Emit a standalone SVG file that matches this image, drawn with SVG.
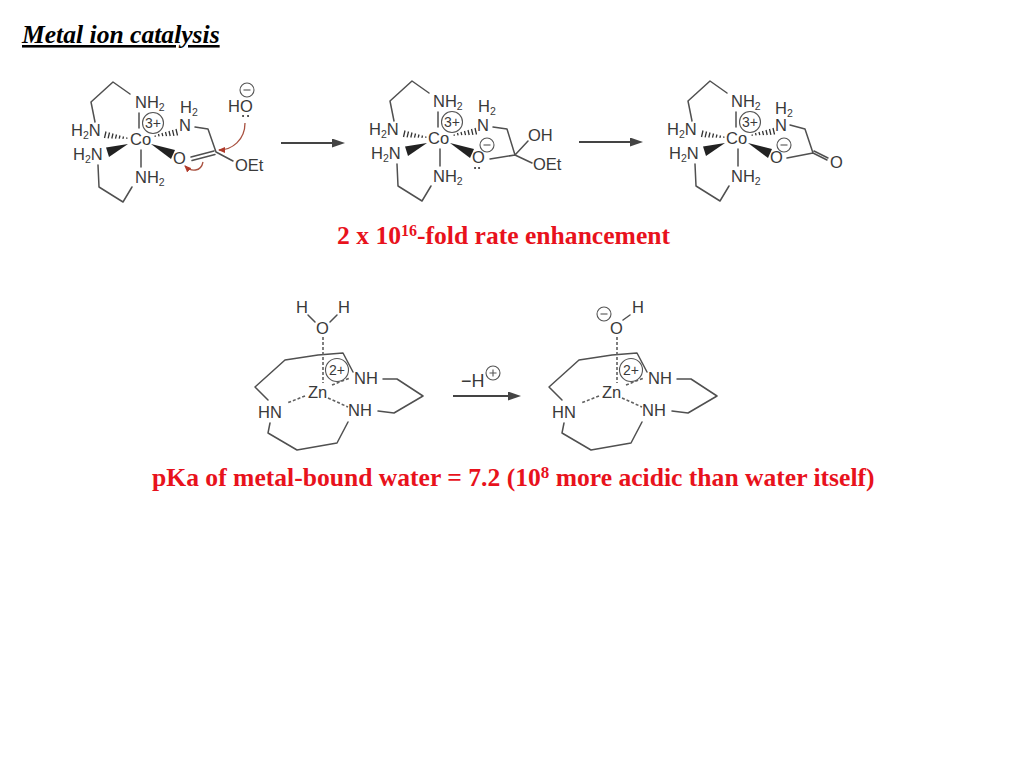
<svg xmlns="http://www.w3.org/2000/svg" xmlns:xlink="http://www.w3.org/1999/xlink" width="1024" height="768" viewBox="0 0 1024 768">
<style>
.t{font-family:"Liberation Sans",Arial,sans-serif;font-size:16.5px;fill:#3a3a3a}
.c{font-family:"Liberation Sans",Arial,sans-serif;font-size:14px;fill:#3a3a3a;text-anchor:middle}
.s{font-size:10.5px}
.b{fill:none;stroke:#505050;stroke-width:1.5;stroke-linejoin:round;stroke-linecap:round}
.d{fill:none;stroke:#606060;stroke-width:1.6;stroke-dasharray:3 2}
.h{fill:none;stroke:#333;stroke-width:1.3}
.w{fill:#222}
.o{fill:none;stroke:#555;stroke-width:1.1}
.r{fill:none;stroke:#a8503f;stroke-width:1.3}
.a{fill:none;stroke:#444;stroke-width:2}
.m{font-family:"Liberation Serif","Times New Roman",serif;font-weight:bold;fill:#e8121c;font-size:25.6px}
</style>
<defs>
<marker id="rh" markerWidth="7" markerHeight="6" refX="6" refY="3" orient="auto" markerUnits="userSpaceOnUse"><path d="M0 0L7 3L0 6Z" fill="#b03a2a"/></marker>
<marker id="ah" markerWidth="13" markerHeight="9" refX="1" refY="4.500" orient="auto" markerUnits="userSpaceOnUse"><path d="M0 0L13 4.500L0 9Z" fill="#444"/></marker>
<g id="core">
<path class="b" d="M95 122L91 102L113 82L130 94"/>
<path class="b" d="M98 165L99 187L123 202L132 187"/>
<path class="b" d="M139 113V128M141 150V167"/>
<path class="h" d="M127 137.500l-.4 1.200M123.500 136.500l-.6 2.400M120 135.500l-.8 3.200M116.500 134.500l-1 4.200M113 133.500l-1.200 5M109.500 132.500l-1.400 5.800M106 131.500l-1.500 6.500"/>
<path class="h" d="M155 135.500l.4 1.200M158.500 134l.6 2.400M162 133l.8 3.200M165.500 132l1 4.200M169 131l1.200 5M172.500 130l1.400 5.800M176 129l1.500 6.500"/>
<polygon class="w" points="128,144 106,147.500 109,157"/>
<polygon class="w" points="151,144 175,150 171,159"/>
<circle class="o" cx="153" cy="123" r="10.500"/>
</g>
<g id="ring">
<path class="b" d="M268 400L255 387L285 360L318 355L343 353L353 372"/>
<path class="b" d="M270 423L268 433L297 450L337 443L348 422"/>
<path class="b" d="M383 379L397 379L423 396L394 413L378 411"/>
<path class="d" d="M323 337V383M305 396L287 403M328 398L348 407M332 385L350 378"/>
<circle class="o" cx="337" cy="370" r="11.500"/>
</g>
</defs>
<g id="title"><text x="22" y="43" class="m" style="font-style:italic;fill:#000;text-decoration:underline">Metal ion catalysis</text></g>
<g id="cobalt-substrate">
<use href="#core" xlink:href="#core"/>
<text class="t" x="135" y="108">NH<tspan class="s" dy="3">2</tspan></text>
<text class="t" x="71" y="136">H<tspan class="s" dy="3">2</tspan><tspan dy="-3">N</tspan></text>
<text class="t" x="130" y="145">Co</text>
<text class="t" x="73" y="160">H<tspan class="s" dy="3">2</tspan><tspan dy="-3">N</tspan></text>
<text class="t" x="135" y="183">NH<tspan class="s" dy="3">2</tspan></text>
<text class="c" x="153" y="128">3+</text>
<text class="t" x="180" y="113">H<tspan class="s" dy="3">2</tspan></text>
<text class="t" x="179" y="131">N</text>
<text class="t" x="173" y="164">O</text>
<text class="t" x="235" y="171">OEt</text>
<text class="t" x="228" y="112">HO</text>
<circle class="o" cx="247" cy="90" r="7"/><path class="o" d="M243.500 90H250.500"/>
<path d="M243 116h.1M248 116h.1" stroke="#333" stroke-width="2" stroke-linecap="round"/>
<path class="b" d="M195 127L208 129L216 152L233 161M191 157L214 151M192 160.500L215 154.500"/>
<path class="r" d="M245 123C245 140 232 150 219 150" marker-end="url(#rh)"/>
<path class="r" d="M203 162C201 172 191 172 185 166" marker-end="url(#rh)"/>
</g>
<g id="cobalt-tetrahedral">
<use href="#core" xlink:href="#core" transform="translate(299,-1)"/>
<text class="t" x="433" y="107">NH<tspan class="s" dy="3">2</tspan></text>
<text class="t" x="369" y="135">H<tspan class="s" dy="3">2</tspan><tspan dy="-3">N</tspan></text>
<text class="t" x="428" y="144">Co</text>
<text class="t" x="371" y="159">H<tspan class="s" dy="3">2</tspan><tspan dy="-3">N</tspan></text>
<text class="t" x="433" y="182">NH<tspan class="s" dy="3">2</tspan></text>
<text class="c" x="452" y="127">3+</text>
<text class="t" x="478" y="112">H<tspan class="s" dy="3">2</tspan></text>
<text class="t" x="477" y="131">N</text>
<text class="t" x="472" y="163">O</text>
<text class="t" x="528" y="141">OH</text>
<text class="t" x="533" y="170">OEt</text>
<circle class="o" cx="487" cy="145" r="7"/><path class="o" d="M483.500 145H490.500"/>
<path d="M475 168h.1M479 168h.1" stroke="#333" stroke-width="2" stroke-linecap="round"/>
<path class="b" d="M493 127L507 129L515 155L528 141M515 155L532 163M490 159L515 155"/>
</g>
<g id="cobalt-product">
<use href="#core" xlink:href="#core" transform="translate(597,-1)"/>
<text class="t" x="731" y="107">NH<tspan class="s" dy="3">2</tspan></text>
<text class="t" x="667" y="135">H<tspan class="s" dy="3">2</tspan><tspan dy="-3">N</tspan></text>
<text class="t" x="726" y="144">Co</text>
<text class="t" x="669" y="159">H<tspan class="s" dy="3">2</tspan><tspan dy="-3">N</tspan></text>
<text class="t" x="731" y="182">NH<tspan class="s" dy="3">2</tspan></text>
<text class="c" x="750" y="127">3+</text>
<text class="t" x="775" y="114">H<tspan class="s" dy="3">2</tspan></text>
<text class="t" x="775" y="131">N</text>
<text class="t" x="770" y="163">O</text>
<text class="t" x="830" y="168">O</text>
<circle class="o" cx="784" cy="145" r="7"/><path class="o" d="M780.500 145H787.500"/>
<path class="b" d="M790 125L805 129L813 153M787 158L813 153L827 160M814 151L828 158"/>
</g>
<g id="rate-label"><text class="m" x="337" y="244">2 x 10<tspan font-size="16" dy="-8">16</tspan><tspan dy="8">-fold rate enhancement</tspan></text></g>
<g id="zinc-water">
<use href="#ring" xlink:href="#ring"/>
<text class="t" x="296" y="313">H</text>
<text class="t" x="338" y="313">H</text>
<text class="t" x="316" y="334">O</text>
<path class="b" d="M308 315L315 322M337 315L330 322"/>
<text class="t" x="308" y="398">Zn</text>
<text class="t" x="354" y="384">NH</text>
<text class="t" x="348" y="416">NH</text>
<text class="t" x="258" y="418">HN</text>
<text class="c" x="337" y="375">2+</text>
</g>
<g id="zinc-hydroxide">
<use href="#ring" xlink:href="#ring" transform="translate(294,0)"/>
<text class="t" x="632" y="313">H</text>
<text class="t" x="610" y="334">O</text>
<circle class="o" cx="604" cy="314" r="7"/><path class="o" d="M600.500 314H607.500"/>
<path class="b" d="M623 320L630 315"/>
<text class="t" x="602" y="398">Zn</text>
<text class="t" x="648" y="384">NH</text>
<text class="t" x="642" y="416">NH</text>
<text class="t" x="552" y="418">HN</text>
<text class="c" x="631" y="375">2+</text>
</g>
<g id="proton-label">
<text class="t" x="461" y="387" style="font-size:18px">−H</text>
<circle class="o" cx="493" cy="373" r="7"/><path class="o" d="M489.500 373H496.500M493 369.500V376.500"/>
</g>
<g id="pka-label"><text class="m" x="152" y="486">pKa of metal-bound water = 7.2 (10<tspan font-size="17" dy="-8">8</tspan><tspan dy="8"> more acidic than water itself)</tspan></text></g>
<g id="connectors">
<path class="a" d="M281 143H333" marker-end="url(#ah)"/>
<path class="a" d="M579 142H631" marker-end="url(#ah)"/>
<path class="a" d="M453 396H509" marker-end="url(#ah)"/>
</g>
</svg>
